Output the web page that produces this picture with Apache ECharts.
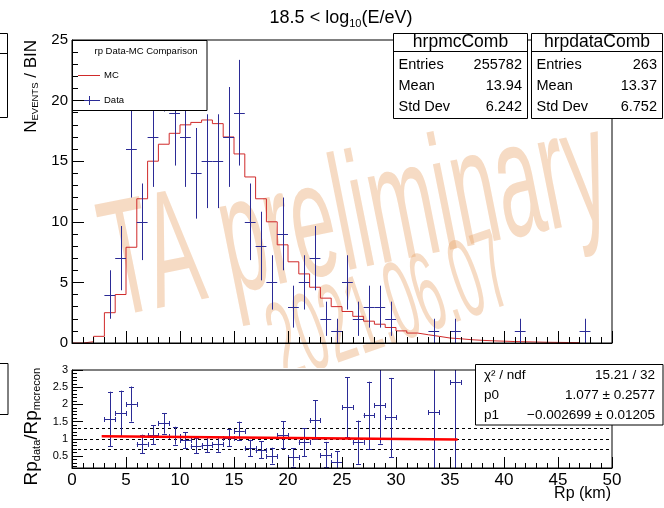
<!DOCTYPE html>
<html><head><meta charset="utf-8">
<script src="https://cdn.jsdelivr.net/npm/echarts@6/dist/echarts.min.js"></script>
<style>html,body{margin:0;padding:0;background:#fff}#c{width:664px;height:508px}</style>
</head><body><div id="c"></div>
<script>
// ---------------- data ----------------
const xTicks = [0, 5, 10, 15, 20, 25, 30, 35, 40, 45, 50];
const countTicks = [0, 5, 10, 15, 20, 25];
const ratioTicks = [0.5, 1, 1.5, 2, 2.5, 3];

// MC histogram (bin low edges, bin width 1 km)
const mcBinLow = [0,1,2,3,4,5,6,7,8,9,10,11,12,13,14,15,16,17,18,19,20,21,22,23,24,25,26,27,28,29,30,31,32,33,34,35,36,37,38,39,40,41,42,43,44,45,46];
const mcValues = [0,0.1,0.55,2.5,4.0,7.9,11.9,15.0,16.4,17.3,18.0,18.2,18.4,18.1,17.0,15.6,13.7,11.9,10.0,8.1,6.7,5.7,4.6,3.7,3.0,2.6,2.2,1.8,1.55,1.28,1.0,0.82,0.68,0.55,0.41,0.35,0.27,0.22,0.18,0.15,0.12,0.1,0.08,0.06,0.05,0.04,0.03];

// Data points
const dataBins   = [3.5,4.5,5.5,6.5,7.5,8.5,9.5,10.5,11.5,12.5,13.5,14.5,15.5,16.5,17.5,18.5,19.5,20.5,21.5,22.5,23.5,24.5,25.5,26.5,27.5,28.5,29.5,33.5,35.5,41.5,47.5];
const dataCounts = [4,7,16,10,17,24,19,17,14,15,15,17,19,10,8,5,9,3,5,7,2,1,5,2,3,3,2,1,1,1,1];
const dataErrors = [2,2.65,4,3.16,4.12,4.9,4.36,4.12,3.74,3.87,3.87,4.12,4.36,3.16,2.83,2.24,3,1.73,2.24,2.65,1.41,1,2.24,1.41,1.73,1.73,1.41,1,1,1,1];

// Ratio pad
const ratioBins   = [3.5,4.5,5.5,6.5,7.5,8.5,9.5,10.5,11.5,12.5,13.5,14.5,15.5,16.5,17.5,18.5,19.5,20.5,21.5,22.5,23.5,24.5,25.5,26.5,27.5,28.5,29.5,33.5,35.5];
const ratioValues = [1.58,1.74,2.01,0.85,1.12,1.45,1.09,0.96,0.80,0.83,0.84,1.03,1.23,0.73,0.68,0.51,1.12,0.46,0.90,1.55,0.54,0.32,1.92,0.90,1.68,1.99,1.62,1.79,2.64];
const ratioErrors = [0.79,0.66,0.51,0.27,0.27,0.30,0.26,0.23,0.22,0.22,0.22,0.25,0.27,0.24,0.25,0.23,0.39,0.27,0.40,0.57,0.37,0.32,0.87,0.63,0.98,1.13,1.15,1.8,2.64];
const refLines = [0.7, 1.0, 1.3];
const fitX = [2.75, 35.7];
const fitY = [1.07, 0.98];

const mcStats   = [['Entries','255782'],['Mean','13.94'],['Std Dev','6.242']];
const dataStats = [['Entries','263'],['Mean','13.37'],['Std Dev','6.752']];
const fitStats  = [['χ² / ndf','15.21 / 32'],['p0','1.077 ± 0.2577'],['p1','\u22120.002699 ± 0.01205']];

// ---------------- drawing ----------------
const FONT = '"Liberation Sans", Arial, Helvetica, sans-serif';
const BLUE = '#2b2b96', RED = '#d02a2a', WM = 'rgba(232,160,100,0.38)';
const halfBin = 0.5;
const ratioMin = 0.15, ratioMax = 3;
const ratioMinor = [];
for (let v = 2; v <= 29; v++) { if (v % 5 !== 0) ratioMinor.push(v / 10); }

const ctx = document.createElement('canvas').getContext('2d');
function tw(t, s) { ctx.font = s + 'px ' + FONT; return ctx.measureText(t).width; }
function txt(t, x, y, s, align, z, extra) {
  return Object.assign({type:'text', x, y, z: z || 12,
    style:{text:t, fontSize:s, fontFamily:FONT, fill:'#000', align:align || 'left', verticalAlign:'middle'}}, extra || {});
}
function richGroup(parts, x, y, align, rotation, z) {
  const total = parts.reduce((a, p) => a + tw(p.t, p.s), 0);
  let cx = align === 'right' ? -total : align === 'center' ? -total / 2 : 0;
  const children = parts.map(p => {
    const el = {type:'text', x:cx, y:(p.dy || 0) - 0.3465 * p.s, z: z,
      style:{text:p.t, fontSize:p.s, fontFamily:FONT, fill:'#000', align:'left', verticalAlign:'middle'}};
    cx += tw(p.t, p.s);
    return el;
  });
  return {type:'group', x, y, rotation: rotation || 0, children, z};
}
function hline(x1, x2, y, color, w, z) {
  return {type:'line', z: z, shape:{x1, y1:y, x2, y2:y}, style:{stroke:color, lineWidth:w || 1}};
}

const mcData = mcBinLow.map((x, i) => [x, mcValues[i]]);
mcData.push([mcBinLow[mcBinLow.length - 1] + 1, mcValues[mcValues.length - 1]]);
mcData.push([mcBinLow[mcBinLow.length - 1] + 1, 0]);

function errSeries(xi, yi, xs, ys, es, cap, yMin, yMax) {
  return {
    type:'custom', xAxisIndex:xi, yAxisIndex:yi, z:5, silent:true,
    data: xs.map((x, i) => [x, ys[i], es[i]]),
    renderItem: (params, api) => {
      const x = api.value(0), y = api.value(1), e = api.value(2);
      const lo = Math.max(y - e, yMin), hi = Math.min(y + e, yMax);
      const pL = api.coord([x - halfBin, y]), pR = api.coord([x + halfBin, y]);
      const pT = api.coord([x, hi]), pB = api.coord([x, lo]);
      const st = {stroke:BLUE, lineWidth:1};
      const cxp = Math.round(pT[0]) + 0.5, cyp = Math.round(pL[1]) + 0.5;
      const ch = [];
      if (y >= yMin && y <= yMax) ch.push({type:'line', shape:{x1:pL[0], y1:cyp, x2:pR[0], y2:cyp}, style:st});
      ch.push({type:'line', shape:{x1:cxp, y1:pT[1], x2:cxp, y2:pB[1]}, style:st});
      if (cap) {
        if (y + e <= yMax) ch.push({type:'line', shape:{x1:cxp - cap, y1:Math.round(pT[1]) + 0.5, x2:cxp + cap, y2:Math.round(pT[1]) + 0.5}, style:st});
        if (y - e >= yMin) ch.push({type:'line', shape:{x1:cxp - cap, y1:Math.round(pB[1]) + 0.5, x2:cxp + cap, y2:Math.round(pB[1]) + 0.5}, style:st});
        ch.push({type:'line', shape:{x1:Math.round(pL[0]) + 0.5, y1:cyp - cap, x2:Math.round(pL[0]) + 0.5, y2:cyp + cap}, style:st});
        ch.push({type:'line', shape:{x1:Math.round(pR[0]) + 0.5, y1:cyp - cap, x2:Math.round(pR[0]) + 0.5, y2:cyp + cap}, style:st});
      }
      return {type:'group', children:ch};
    }
  };
}

const axisCommon = {
  type:'value', z:10,
  axisLine:{show:true, onZero:false, lineStyle:{color:'#000', width:1}},
  splitLine:{show:false},
};

const graphics = [];
// watermark
graphics.push({type:'text', x:106, y:272, rotation:Math.PI * 11.3 / 180, scaleX:0.485, z:1, silent:true,
  style:{text:'TA preliminary', fontSize:165, fontFamily:FONT, fill:WM, align:'left', verticalAlign:'middle'}});
graphics.push({type:'text', x:274, y:352, rotation:Math.PI * 19 / 180, scaleX:0.44, z:1, silent:true,
  style:{text:'2021.06.07', fontSize:112, fontFamily:FONT, fill:WM, align:'left', verticalAlign:'middle'}});
// ratio pad white cover (pad starts below top pad)
graphics.push({type:'rect', z:2, shape:{x:60, y:368, width:415, height:60}, style:{fill:'#fff'}});

// title
graphics.push(richGroup([{t:'18.5 < log', s:18}, {t:'10', s:11, dy:4}, {t:'(E/eV)', s:18}], 341, 24, 'center', 0, 12));
// y titles
graphics.push(richGroup([{t:'N', s:17}, {t:'EVENTS', s:9.5, dy:2}, {t:' / BIN', s:17}], 37, 40, 'right', Math.PI / 2, 12));
graphics.push(richGroup([{t:'Rp', s:19}, {t:'data', s:11, dy:3}, {t:'/Rp', s:19}, {t:'mcrecon', s:11, dy:3}], 38, 368, 'right', Math.PI / 2, 12));
// x title
graphics.push(txt('Rp (km)', 611, 494, 16, 'right'));

// legend box
graphics.push({type:'rect', z:6, shape:{x:72.5, y:40.5, width:134.5, height:70}, style:{fill:'#fff', stroke:'#000', lineWidth:1}});
graphics.push(txt('rp Data-MC Comparison', 146, 51, 9.5, 'center', 7));
graphics.push(hline(78, 100, 75.5, RED, 1, 7));
graphics.push(txt('MC', 104, 75, 9.5, 'left', 7));
graphics.push(hline(77, 100, 100.5, BLUE, 1, 7));
graphics.push({type:'line', z:7, shape:{x1:89.5, y1:96, x2:89.5, y2:105}, style:{stroke:BLUE, lineWidth:1}});
graphics.push(txt('Data', 104, 100, 9.5, 'left', 7));

// stat boxes
function statBox(x, w, title, rows) {
  graphics.push({type:'rect', z:12, shape:{x:x, y:33.5, width:w, height:85}, style:{fill:'#fff', stroke:'#000', lineWidth:1}});
  graphics.push(hline(x, x + w, 51.5, '#000', 1, 13));
  graphics.push(txt(title, x + w / 2, 42.5, 17.5, 'center', 13));
  const ys = [65, 86, 106.5];
  rows.forEach((r, i) => {
    graphics.push(txt(r[0], x + 5, ys[i], 14.5, 'left', 13));
    graphics.push(txt(r[1], x + w - 5.5, ys[i], 14.5, 'right', 13));
  });
}
statBox(393.5, 134, 'hrpmcComb', mcStats);
statBox(531.5, 131, 'hrpdataComb', dataStats);
// fit box
graphics.push({type:'rect', z:12, shape:{x:475.5, y:364.5, width:187.5, height:60.5}, style:{fill:'#fff', stroke:'#000', lineWidth:1}});
[375, 395.5, 415.5].forEach((yy, i) => {
  graphics.push(txt(fitStats[i][0], 484, yy, 13.5, 'left', 13));
  graphics.push(txt(fitStats[i][1], 655, yy, 13.5, 'right', 13));
});
// cut-off boxes at the left edge
graphics.push({type:'rect', z:12, shape:{x:-5, y:33.5, width:12.5, height:84}, style:{fill:'#fff', stroke:'#000', lineWidth:1}});
graphics.push(hline(-5, 7.5, 53.5, '#000', 1, 13));
graphics.push({type:'rect', z:12, shape:{x:-5, y:363.5, width:13, height:51}, style:{fill:'#fff', stroke:'#000', lineWidth:1}});

const option = {
  backgroundColor:'#fff',
  animation:false,
  textStyle:{fontFamily:FONT},
  grid:[
    {left:72, top:40, width:540, height:303, show:true, borderColor:'#000', borderWidth:1, backgroundColor:'transparent', z:10},
    {left:72, top:370, width:540, height:98, show:true, borderColor:'#000', borderWidth:1, backgroundColor:'transparent', z:10}
  ],
  xAxis:[
    Object.assign({}, axisCommon, {gridIndex:0, position:'bottom', min:xTicks[0], max:xTicks[xTicks.length - 1], interval:5,
      axisTick:{inside:true, length:12, lineStyle:{color:'#000'}},
      minorTick:{show:true, splitNumber:5, length:6, lineStyle:{color:'#000'}},
      axisLabel:{show:false}}),
    Object.assign({}, axisCommon, {gridIndex:1, position:'bottom', min:xTicks[0], max:xTicks[xTicks.length - 1], interval:5,
      axisTick:{inside:true, length:11, lineStyle:{color:'#000'}},
      minorTick:{show:true, splitNumber:5, length:5, lineStyle:{color:'#000'}},
      axisLabel:{show:true, fontSize:17, color:'#000', margin:4, fontFamily:FONT}})
  ],
  yAxis:[
    Object.assign({}, axisCommon, {gridIndex:0, position:'left', min:countTicks[0], max:countTicks[countTicks.length - 1], interval:5,
      axisTick:{inside:true, length:12, lineStyle:{color:'#000'}},
      minorTick:{show:true, splitNumber:5, length:6, lineStyle:{color:'#000'}},
      axisLabel:{show:true, fontSize:15, color:'#000', margin:4, fontFamily:FONT}}),
    Object.assign({}, axisCommon, {gridIndex:1, position:'left', min:ratioMin, max:ratioMax,
      axisTick:{inside:true, length:11, customValues:ratioTicks, lineStyle:{color:'#000'}},
      axisLabel:{show:true, fontSize:11, color:'#000', margin:4, fontFamily:FONT, customValues:ratioTicks}}),
    Object.assign({}, axisCommon, {gridIndex:1, position:'left', offset:0, min:ratioMin, max:ratioMax,
      axisLine:{show:false},
      axisTick:{inside:true, length:5, customValues:ratioMinor, lineStyle:{color:'#000'}},
      axisLabel:{show:false}})
  ],
  graphic:{elements:graphics},
  series:[
    {type:'line', name:'MC', xAxisIndex:0, yAxisIndex:0, step:'end', data:mcData, symbol:'none', z:4,
      lineStyle:{color:RED, width:1}, silent:true},
    errSeries(0, 0, dataBins, dataCounts, dataErrors, 0, 0, 25),
    {type:'line', xAxisIndex:1, yAxisIndex:1, data:[], silent:true,
      markLine:{silent:true, symbol:'none', label:{show:false}, animation:false,
        lineStyle:{type:[3,3], color:'#000', width:1}, data:refLines.map(v => ({yAxis:v}))}},
    errSeries(1, 1, ratioBins, ratioValues, ratioErrors, 2.5, ratioMin, ratioMax),
    {type:'line', name:'fit', xAxisIndex:1, yAxisIndex:1, data:fitX.map((x, i) => [x, fitY[i]]), symbol:'none', z:6,
      lineStyle:{color:'#ff0000', width:2.5}, silent:true}
  ]
};
const chart = echarts.init(document.getElementById('c'), null, {renderer:'canvas'});
chart.setOption(option);
</script></body></html>
